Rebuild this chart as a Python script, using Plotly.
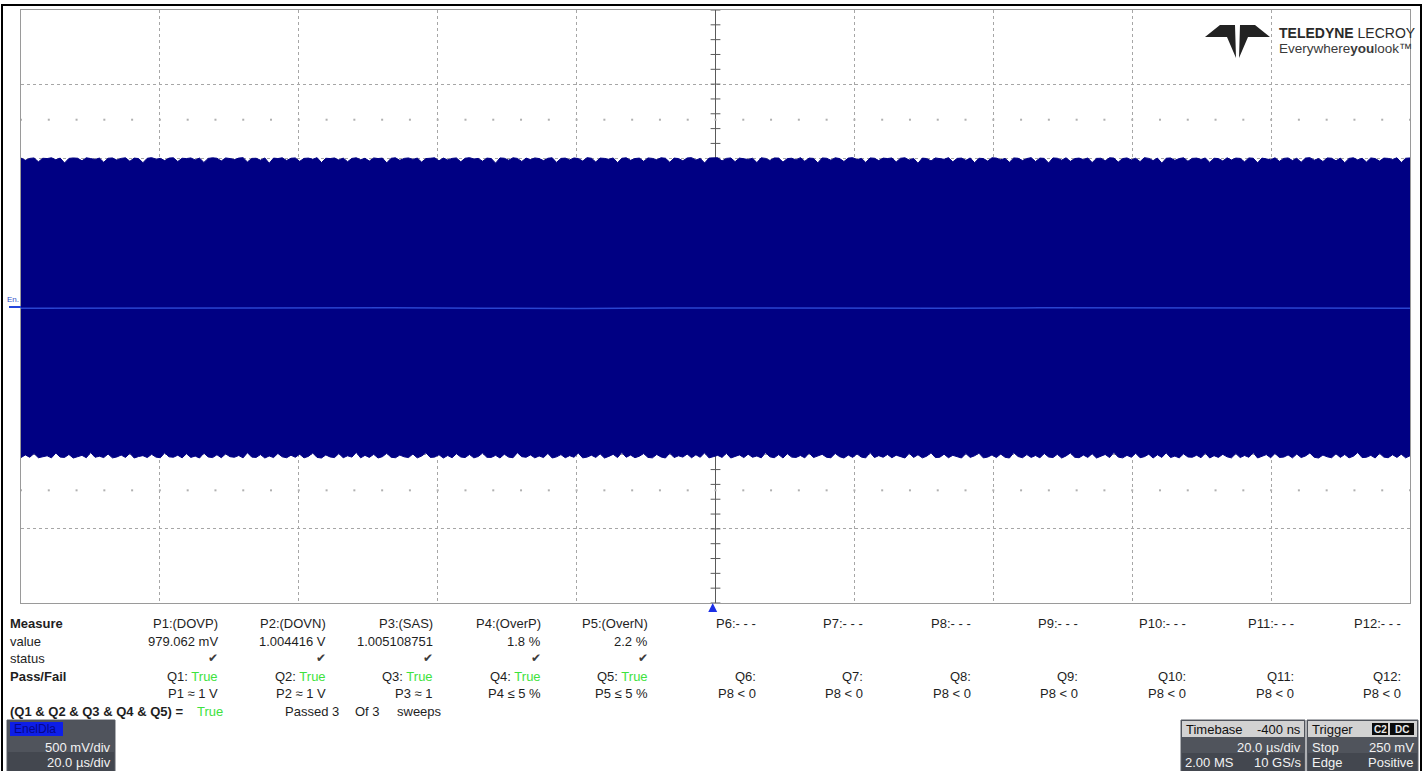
import numpy as np
import plotly.graph_objects as go

# ---------------- data ----------------
# waveform envelope (offsets in mV) read from the screen
upper_base_mv = 998
upper_mv = [
    3, -12, 1, 4, -22, 2, 0, 5, -8, 3, -30, 1, 4, 2, -15, 5, 0, -6, 3, -25,
    2, 4, -10, 1, 5, -18, 3, 0, -28, 2, 6, -4, 1, -14, 3, 5, -20, 2, 0, 4,
    -9, 3, -26, 1, 5, 2, -16, 4, 0, -7, 3, 6, -23, 1, 2, -11, 4, -32, 3, 0,
    5, -13, 2, 4, -19, 1, 3, -5, 6, -27, 2, 0, 4, -10, 3, -21, 1, 5, -8, 2,
    -17, 4, 0, 3, -29, 2, 5, -12, 1, 4, -6, 3, -24, 0, 2, 5, -15, 3, -9, 1,
    4, -22, 2, 6, -3, 1, -18, 3, 0, -31, 4, 2, -11, 5, 1, -20, 3, -7, 4, 0,
    -14, 2, 5, -26, 1, 3, -9, 4, 0, -17, 6, 2, -23, 3, 1, -5, 4, -28, 2, 5,
    -12, 0, 3, -19, 4, 1, -8, 5, 2, -25, 3, 0, -15, 4, 6, -10, 1, -30, 3, 2,
    5, -16, 1, 4, -21, 3, 0, -6, 2, -27, 5, 1, -13, 4, 3, -24, 0, 2, -9, 6,
    -18, 3, 1, -29, 4, 2, -11, 5, 0, -20, 3, 6, -7, 1, -26, 4, 2, -14, 3, 0,
    4, -23, 2, 5, -10, 1, -32, 3, 0, -16, 4, 2, -5, 6, -22, 1, 3, -12, 4, -28,
    2, 0, -17, 5, 3, -8, 1, -25, 4, 2, -13, 0, 6, -20, 3, 1, -30, 4, 2, -11,
    5, -19, 0, 3, -7, 4, -27, 1, 2, -15, 5, 3, -24, 0, 4, -9, 2, -21, 6, 1,
    -14, 3, -31, 2, 4, -12, 0, 5, -18, 1, 3, -6, 4, -26, 2, 0, -16, 5, -10, 3,
    1, -22, 4, 2, -29, 3, 0, -8, 5, -19, 1, 4, -13, 2, -25, 3, 6, -11, 0, -20,
    4, 2, -15, 3, -28, 1, 5, -9, 2, -23, 4, 0, -17, 3, 1, -6, 5, -27, 2, 4,
]
lower_base_mv = -1016
lower_mv = [
    -3, 15, -1, 24, -4, 2, 9, -5, 28, 0, -2, 18, -6, 3, 12, -4, 31, -1, 6, -3,
    21, -5, 1, 14, -2, 26, -6, 4, 10, -3, 19, 0, -4, 29, 2, -1, 13, -5, 23, -2,
    7, -6, 27, 1, -3, 16, -4, 22, 3, -1, 11, -5, 30, 0, -2, 17, -6, 8, -3, 25,
    2, -4, 13, -1, 20, -5, 5, 28, -2, -6, 15, 1, -3, 24, -4, 9, 0, 32, -5, 12,
    -2, 19, -6, 3, 26, -1, -4, 14, 2, -3, 21, -5, 7, 29, -2, 0, 16, -6, 11, -4,
    23, 1, -3, 18, -5, 4, 27, -1, -2, 12, -6, 20, 0, -4, 30, 3, -1, 15, -5, 8,
    -3, 25, -6, 2, 17, -4, 10, -1, 28, -5, 0, 13, -2, 22, -6, 5, 19, -3, 31, -1,
    14, -4, 6, 24, -2, -5, 18, 1, -6, 27, -3, 9, 0, 21, -4, 16, -1, 29, -5, 3,
    12, -2, 26, -6, 4, 15, -3, 20, -1, 8, -5, 30, 2, -4, 17, -6, 23, 0, -2, 11,
    -5, 28, -3, 7, 19, -1, -4, 25, 3, -6, 14, -2, 22, 0, -5, 31, -3, 10, -1, 18,
    -4, 13, 1, -6, 26, -2, 16, -5, 6, 29, -3, -1, 20, -4, 12, 2, -6, 24, -2, 9,
    27, -5, 0, 15, -3, 21, -1, -6, 30, 4, -4, 17, -2, 11, -5, 25, 1, -3, 19, -6,
    8, 28, -1, -4, 14, -2, 23, -6, 5, 18, -3, 31, 0, -5, 12, -1, 26, -4, 3, 20,
    -6, 16, -2, 29, -3, 7, -5, 22, 1, -1, 13, -4, 27, -6, 10, -2, 19, 2, -5, 24,
    -3, 11, -1, 30, -6, 4, 17, -4, 25, -2, 0, 15, -5, 21, -3, 8, 28, -1, -6, 14,
    2, -4, 23, -2, 18, -5, 6, 31, -3, -1, 12, -6, 26, 0, -4, 16, -2, 20, -5, 9,
]
center_mv = [-12, -10, -13, -11, -9, -12, -14, -10, -11, -13, -12, -9, -11, -13, -10, -12]

# time base: 20 us/div, 10 div, delay -400 ns
time_div_us = 20.0
delay_us = -0.4
volt_div = 0.5

# measurement table
param_names = ["P1:(DOVP)", "P2:(DOVN)", "P3:(SAS)", "P4:(OverP)", "P5:(OverN)",
               "P6:- - -", "P7:- - -", "P8:- - -", "P9:- - -", "P10:- - -",
               "P11:- - -", "P12:- - -"]
param_values = ["979.062 mV", "1.004416 V", "1.005108751", "1.8 %", "2.2 %"]
param_status = ["\u2714", "\u2714", "\u2714", "\u2714", "\u2714"]
qual_names = ["Q1:", "Q2:", "Q3:", "Q4:", "Q5:", "Q6:", "Q7:", "Q8:", "Q9:",
              "Q10:", "Q11:", "Q12:"]
qual_results = ["True", "True", "True", "True", "True"]
qual_conditions = ["P1 \u2248 1 V", "P2 \u2248 1 V", "P3 \u2248 1", "P4 \u2264 5 %",
                   "P5 \u2264 5 %", "P8 &lt; 0", "P8 &lt; 0", "P8 &lt; 0",
                   "P8 &lt; 0", "P8 &lt; 0", "P8 &lt; 0", "P8 &lt; 0"]
row_labels = ["Measure", "value", "status", "Pass/Fail"]
summary_expr = "(Q1 &amp; Q2 &amp; Q3 &amp; Q4 &amp; Q5) ="
summary_result = "True"
sweeps_passed = 3
sweeps_total = 3

channel_label = "EnelDla"
channel_scale = ["500 mV/div", "20.0 \u00b5s/div"]
timebase_info = ["Timebase", "-400 ns", "20.0 \u00b5s/div", "2.00 MS", "10 GS/s"]
trigger_info = ["Trigger", "C2", "DC", "Stop", "250 mV", "Edge", "Positive"]
logo_lines = ["<b>TELEDYNE</b> LECROY", "Everywhere<b>you</b>look\u2122"]

# ---------------- layout helpers ----------------
W, H = 1424, 771
L, T, R, B = 21, 10, 1410, 603
def fx(px):
    return (px - L) / (R - L)
def fy(py):
    return (B - py) / (B - T)

FONT = "Liberation Sans, Arial, sans-serif"
GREEN = "#3ee23e"
NAVY = "#000083"

x0 = delay_us * -1 - 5 * time_div_us   # -99.6
x1 = x0 + 10 * time_div_us
xc = (x0 + x1) / 2

fig = go.Figure()

# graticule centre axis (under trace)
fig.add_trace(go.Scatter(x=[xc, xc], y=[-4 * volt_div, 4 * volt_div], mode="lines",
                         line=dict(color="#5a5a5a", width=1), hoverinfo="skip"))
yt = np.arange(-4 * volt_div, 4 * volt_div + 1e-9, volt_div / 5)
fig.add_trace(go.Scatter(x=[xc] * len(yt), y=yt, mode="markers",
                         marker=dict(symbol="line-ew", size=7,
                                     line=dict(color="#5a5a5a", width=1)),
                         hoverinfo="skip"))
# minor graticule dots
xd = np.arange(x0, x1 + 1e-9, time_div_us / 5)
for yv in (1.26, -1.24):
    fig.add_trace(go.Scatter(x=xd, y=[yv] * len(xd), mode="markers",
                             marker=dict(symbol="square", size=2, color="#b0b0b0"),
                             hoverinfo="skip"))

# waveform envelope
n = len(upper_mv)
xs = np.linspace(x0, x1, n)
upper_v = [(upper_base_mv + v) / 1000 for v in upper_mv]
lower_v = [(lower_base_mv + v) / 1000 for v in lower_mv]
fig.add_trace(go.Scatter(x=xs, y=lower_v, mode="lines",
                         line=dict(color=NAVY, width=1), hoverinfo="skip"))
fig.add_trace(go.Scatter(x=xs, y=upper_v, mode="lines", fill="tonexty",
                         fillcolor=NAVY, line=dict(color=NAVY, width=1),
                         hoverinfo="skip"))
xcn = np.linspace(x0, x1, len(center_mv))
fig.add_trace(go.Scatter(x=xcn, y=[v / 1000 for v in center_mv], mode="lines",
                         line=dict(color="#2a44d0", width=1.5), hoverinfo="skip"))

shapes = []
annotations = []

def rect(px0, py0, px1, py1, fill, line=None, lw=1):
    shapes.append(dict(type="rect", xref="paper", yref="paper",
                       x0=fx(px0), x1=fx(px1), y0=fy(py1), y1=fy(py0),
                       fillcolor=fill,
                       line=dict(color=line if line else "rgba(0,0,0,0)", width=lw),
                       layer="above"))

def text(px, py, s, anchor="left", size=13, color="#1e1e1e", family=FONT):
    annotations.append(dict(xref="paper", yref="paper", x=fx(px), y=fy(py),
                            text=s, showarrow=False, xanchor=anchor,
                            yanchor="middle",
                            font=dict(family=family, size=size, color=color)))

def poly(points, color):
    d = "M " + " L ".join(f"{fx(a):.5f},{fy(b):.5f}" for a, b in points) + " Z"
    shapes.append(dict(type="path", xref="paper", yref="paper", path=d,
                       fillcolor=color, line=dict(width=0), layer="above"))

# outer frame
shapes.append(dict(type="rect", xref="paper", yref="paper",
                   x0=fx(2), x1=fx(1421), y0=fy(772), y1=fy(5),
                   line=dict(color="#000000", width=2), fillcolor="rgba(0,0,0,0)"))

# trigger position marker (t = 0)
trig_px = L + (0 - x0) / (x1 - x0) * (R - L)
poly([(trig_px - 4.5, 612), (trig_px + 4.5, 612), (trig_px, 603)], "#1c2fe6")

# "En." channel marker
shapes.append(dict(type="line", xref="paper", yref="paper",
                   x0=fx(9), x1=fx(21), y0=fy(307), y1=fy(307),
                   line=dict(color="#2446dc", width=2)))
text(5, 299, "En.", size=8, color="#3050c8")

# logo
poly([(1220, 25), (1235, 25), (1236, 58), (1227, 37), (1205, 37)], "#222222")
poly([(1255, 25), (1240, 25), (1239, 58), (1248, 37), (1270, 37)], "#222222")
text(1277, 33, logo_lines[0], size=14, color="#2a2a2a")
text(1277, 49, logo_lines[1], size=13.5, color="#3a3a3a")

# measurement table
rows_y = [623, 641, 658, 676, 693, 711]
col_x = [220 + i * 107.55 for i in range(12)]
text(8, rows_y[0], "<b>" + row_labels[0] + "</b>")
text(8, rows_y[1], row_labels[1])
text(8, rows_y[2], row_labels[2])
text(8, rows_y[3], "<b>" + row_labels[3] + "</b>")
for i, name in enumerate(param_names):
    text(col_x[i], rows_y[0], name, anchor="right")
for i, v in enumerate(param_values):
    text(col_x[i], rows_y[1], v, anchor="right")
for i, v in enumerate(param_status):
    text(col_x[i], rows_y[2], v, anchor="right", color="#3c3c3c",
         family="DejaVu Sans, sans-serif", size=12)
for i, q in enumerate(qual_names):
    s = q
    if i < len(qual_results):
        s = q + f" <span style='color:{GREEN}'>" + qual_results[i] + "</span>"
    text(col_x[i], rows_y[3], s, anchor="right")
for i, c in enumerate(qual_conditions):
    text(col_x[i], rows_y[4], c, anchor="right")
text(8, rows_y[5], "<b>" + summary_expr + "</b>")
text(195, rows_y[5], summary_result, color=GREEN)
text(283, rows_y[5], f"Passed {sweeps_passed}")
text(353, rows_y[5], f"Of {sweeps_total}")
text(395, rows_y[5], "sweeps")

# channel descriptor box
rect(7, 720, 115, 772, "#43474f", "#5c6068")
rect(8, 721, 114, 752, "#50545c")
rect(10, 722, 63, 736, "#0d1ee8")
text(12, 729, channel_label, size=12, color="#06068a")
text(113, 747, channel_scale[0], anchor="right", color="#f2f2f2")
text(113, 762, channel_scale[1], anchor="right", color="#f2f2f2")

# timebase box
rect(1181, 720, 1305, 772, "#43474f", "#5c6068")
rect(1182, 737, 1304, 753, "#50545c")
rect(1182, 721, 1304, 737, "#d2d2d2")
text(1184, 729, timebase_info[0], color="#111111")
text(1303, 729, timebase_info[1], anchor="right", color="#111111")
text(1303, 747, timebase_info[2], anchor="right", color="#f2f2f2")
text(1183, 762, timebase_info[3], color="#f2f2f2")
text(1303, 762, timebase_info[4], anchor="right", color="#f2f2f2")

# trigger box
rect(1307, 720, 1418, 772, "#43474f", "#5c6068")
rect(1308, 737, 1417, 753, "#50545c")
rect(1308, 721, 1417, 737, "#d2d2d2")
text(1310, 729, trigger_info[0], color="#111111")
rect(1372, 723, 1388, 735, "#0c0c0c")
rect(1390, 723, 1414, 735, "#0c0c0c")
text(1380, 729, "<b>" + trigger_info[1] + "</b>", anchor="center", size=10, color="#e8e8e8")
text(1402, 729, "<b>" + trigger_info[2] + "</b>", anchor="center", size=10, color="#e8e8e8")
text(1310, 747, trigger_info[3], color="#f2f2f2")
text(1416, 747, trigger_info[4], anchor="right", color="#f2f2f2")
text(1310, 762, trigger_info[5], color="#f2f2f2")
text(1416, 762, trigger_info[6], anchor="right", color="#f2f2f2")

fig.update_layout(
    width=W, height=H,
    margin=dict(l=L, r=W - R, t=T, b=H - B, pad=0),
    paper_bgcolor="white", plot_bgcolor="white",
    showlegend=False,
    shapes=shapes, annotations=annotations,
    font=dict(family=FONT, size=13, color="#1e1e1e"),
    xaxis=dict(range=[x0, x1], tick0=x0, dtick=time_div_us, showticklabels=False,
               ticks="", showgrid=True, gridcolor="#a6a6a6", griddash="dot",
               gridwidth=1, zeroline=False, showline=True, mirror=True,
               linecolor="#9a9a9a", linewidth=1, fixedrange=True),
    yaxis=dict(range=[-4 * volt_div, 4 * volt_div], tick0=0, dtick=volt_div,
               showticklabels=False, ticks="", showgrid=True, gridcolor="#a6a6a6",
               griddash="dot", gridwidth=1, zeroline=False, showline=True,
               mirror=True, linecolor="#9a9a9a", linewidth=1, fixedrange=True),
)

fig.write_html("out.html", config=dict(displayModeBar=False))
